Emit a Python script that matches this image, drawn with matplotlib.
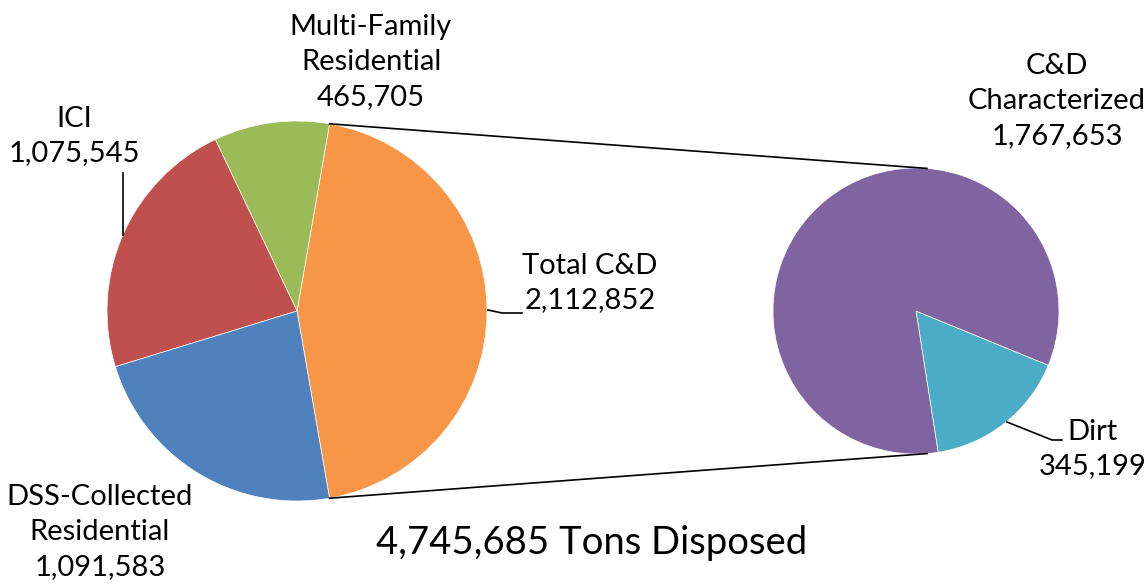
import numpy as np
import matplotlib
matplotlib.use("Agg")
import matplotlib.pyplot as plt

# Datos del gráfico
main_labels = ["Total C&D", "Multi-Family\nResidential", "ICI", "DSS-Collected\nResidential"]
main_values = [2112852, 465705, 1075545, 1091583]
main_colors = ["#F79646", "#9BBB59", "#C0504D", "#4F81BD"]

sub_labels = ["Dirt", "C&D\nCharacterized"]
sub_values = [345199, 1767653]
sub_colors = ["#4BACC6", "#8064A2"]

total = sum(main_values)
titulo = f"{total:,} Tons Disposed"

W, H = 1148, 584
fig = plt.figure(figsize=(W / 100, H / 100), dpi=100)
ax = fig.add_axes([0, 0, 1, 1])

# geometría (en píxeles, y hacia arriba)
c1, r1 = (297, H - 311), 190
c2, r2 = (916, H - 311), 143

frac0 = main_values[0] / total
start1 = -frac0 * 180
w1, _ = ax.pie(main_values, colors=main_colors, startangle=start1, center=c1, radius=r1,
               counterclock=True, wedgeprops=dict(edgecolor="white", linewidth=0.5))
w2, _ = ax.pie(sub_values, colors=sub_colors, startangle=-81.1, center=c2, radius=r2,
               counterclock=True, wedgeprops=dict(edgecolor="white", linewidth=0.5))

ax.set_xlim(0, W)
ax.set_ylim(0, H)
ax.set_aspect("equal")
ax.axis("off")

# líneas de conexión entre los dos pasteles
a_top = np.deg2rad(w1[0].theta2)
a_bot = np.deg2rad(w1[0].theta1)
b = np.deg2rad(85.6)
ax.plot([c1[0] + r1 * np.cos(a_top), c2[0] + r2 * np.cos(b)],
        [c1[1] + r1 * np.sin(a_top), c2[1] + r2 * np.sin(b)], color="black", lw=1.2)
ax.plot([c1[0] + r1 * np.cos(a_bot), c2[0] + r2 * np.cos(-b)],
        [c1[1] + r1 * np.sin(a_bot), c2[1] + r2 * np.sin(-b)], color="black", lw=1.2)

fs = 21
font = ["Lato", "DejaVu Sans"]

def etiqueta(x, y, nombre, valor):
    ax.text(x, H - y, f"{nombre}\n{valor:,}", ha="center", va="center", fontsize=fs,
            family=font, linespacing=1.42)

etiqueta(371, 62, main_labels[1], main_values[1])
etiqueta(74, 136, main_labels[2], main_values[2])
etiqueta(590, 283, main_labels[0], main_values[0])
etiqueta(100, 532, main_labels[3], main_values[3])
etiqueta(1057, 101, sub_labels[1], sub_values[1])
etiqueta(1093, 449, sub_labels[0], sub_values[0])

# líneas guía
ax.plot([123, 123], [H - 173, H - 235], color="black", lw=1.2)
ax.plot([488, 502, 522], [H - 310, H - 313, H - 313], color="black", lw=1.2)
ax.plot([1007, 1052, 1062], [H - 422, H - 440, H - 440], color="black", lw=1.2)

ax.text(592, H - 543, titulo, ha="center", va="center", fontsize=27.5, family=font)

fig.savefig("out.png", dpi=100)
